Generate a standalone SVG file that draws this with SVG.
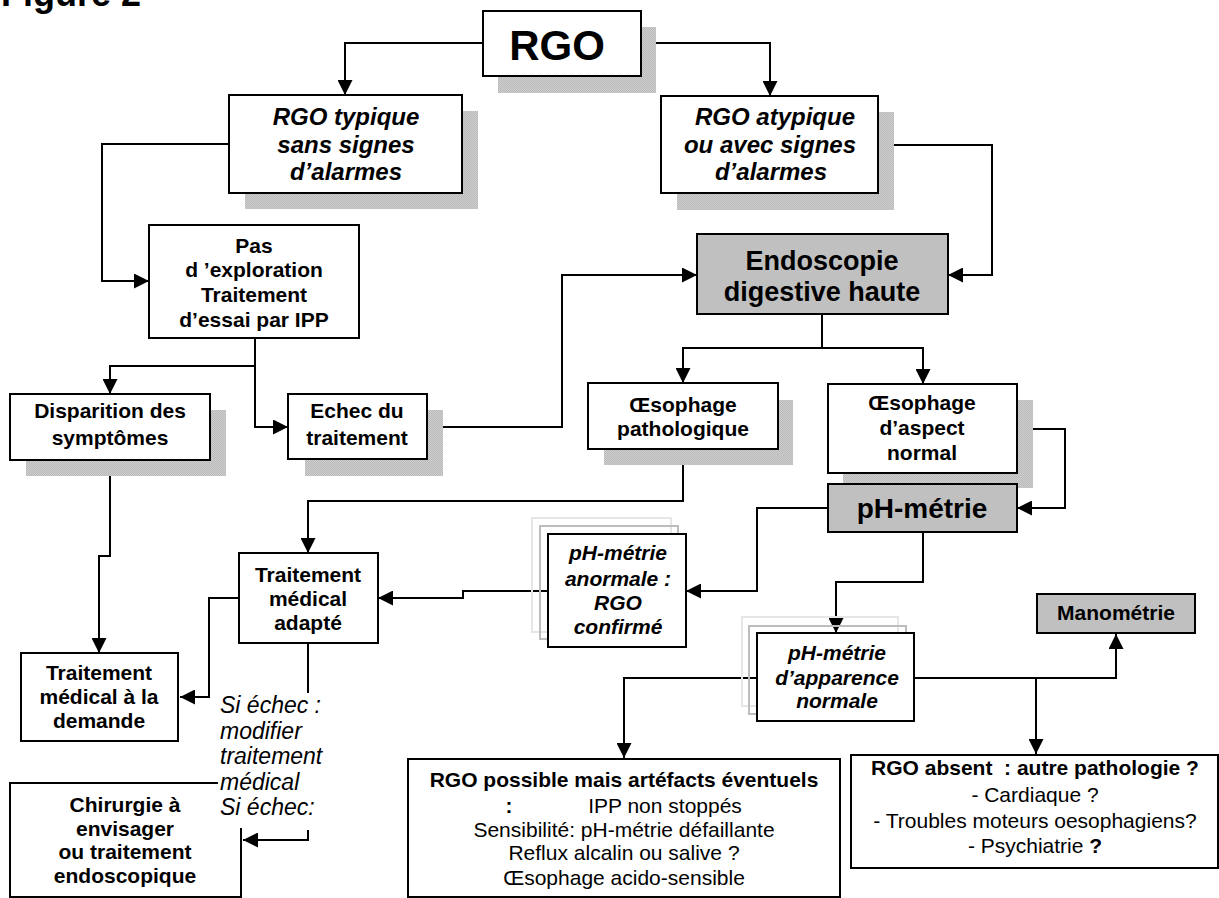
<svg xmlns="http://www.w3.org/2000/svg" width="1219" height="898" viewBox="0 0 1219 898">
<style>
.box{fill:#fff;stroke:#000;stroke-width:2}
.gbox{fill:#c0c0c0;stroke:#000;stroke-width:2}
.sh{fill:url(#dither);stroke:none}
.g1{fill:none;stroke:#e6e6e6;stroke-width:2}
.g2{fill:none;stroke:#bdbdbd;stroke-width:2}
.c{fill:none;stroke:#000;stroke-width:2}
text{font-family:"Liberation Sans",Arial,sans-serif;fill:#000;text-anchor:middle}
.b{font-weight:bold;font-size:21px}
.bi{font-weight:bold;font-style:italic;font-size:24px}
.bi2{font-weight:bold;font-style:italic;font-size:21px}
.r{font-size:21px}
.it{font-style:italic;font-size:23px;text-anchor:start}
</style>
<defs>
<pattern id="dither" width="2" height="2" patternUnits="userSpaceOnUse">
<rect width="2" height="2" fill="#cfcfcf"/>
<rect width="1" height="1" fill="#b9b9b9"/>
<rect x="1" y="1" width="1" height="1" fill="#b9b9b9"/>
</pattern>
<marker id="ar" markerUnits="userSpaceOnUse" markerWidth="15" markerHeight="15" refX="15" refY="7.5" orient="auto">
<path d="M0,0 L15,7.5 L0,15 z" fill="#000"/>
</marker>
</defs>
<rect width="1219" height="898" fill="#fff"/>
<text x="1" y="6" style="font-weight:bold;font-size:36px;text-anchor:start">Figure 2</text>

<g id="connectors">
<path class="c" d="M483,43 H345 V95" marker-end="url(#ar)"/>
<path class="c" d="M641,43 H770 V96" marker-end="url(#ar)"/>
<path class="c" d="M229,144 H102 V281 H149" marker-end="url(#ar)"/>
<path class="c" d="M255,338 V366 H110 V394" marker-end="url(#ar)"/>
<path class="c" d="M255,366 V427 H288" marker-end="url(#ar)"/>
<path class="c" d="M427,427 H562 V275 H697" marker-end="url(#ar)"/>
<path class="c" d="M878,145 H992 V275 H948" marker-end="url(#ar)"/>
<path class="c" d="M822,314 V348 H683 V383" marker-end="url(#ar)"/>
<path class="c" d="M822,348 H923 V384" marker-end="url(#ar)"/>
<path class="c" d="M1017,429 H1065 V508 H1017" marker-end="url(#ar)"/>
<path class="c" d="M683,449 V501 H308 V553" marker-end="url(#ar)"/>
<path class="c" d="M828,508 H757 V591 H686" marker-end="url(#ar)"/>
<path class="c" d="M923,532 V582 H836 V633" marker-end="url(#ar)"/>
<path class="c" d="M548,591 H463 V598 H378" marker-end="url(#ar)"/>
<path class="c" d="M239,598 H209 V697 H180" marker-end="url(#ar)"/>
<path class="c" d="M110,460 V556 H99 V653" marker-end="url(#ar)"/>
<path class="c" d="M308,643 V693"/>
<path class="c" d="M308,830 V840 H243" marker-end="url(#ar)"/>
<path class="c" d="M757,678 H624 V758" marker-end="url(#ar)"/>
<path class="c" d="M914,678 H1116 V634" marker-end="url(#ar)"/>
<path class="c" d="M1036,678 V754" marker-end="url(#ar)"/>
</g>

<g id="n-rgo">
<rect class="sh" x="498" y="27" width="158" height="66"/>
<rect class="box" x="483" y="11" width="158" height="65"/>
<text x="557" y="60" style="font-weight:bold;font-size:42px">RGO</text>
</g>

<g id="n-typique">
<rect class="sh" x="245" y="111" width="233" height="98"/>
<rect class="box" x="229" y="95" width="233" height="98"/>
<text class="bi" x="346" y="125">RGO typique</text>
<text class="bi" x="346" y="153">sans signes</text>
<text class="bi" x="346" y="180">d’alarmes</text>
</g>

<g id="n-atypique">
<rect class="sh" x="677" y="112" width="217" height="98"/>
<rect class="box" x="661" y="96" width="217" height="97"/>
<text class="bi" x="775" y="125">RGO atypique</text>
<text class="bi" x="770" y="153">ou avec signes</text>
<text class="bi" x="771" y="180">d’alarmes</text>
</g>

<g id="n-pas">
<rect class="box" x="149" y="225" width="210" height="113"/>
<text class="b" x="254" y="253">Pas</text>
<text class="b" x="254" y="277">d ’exploration</text>
<text class="b" x="254" y="302">Traitement</text>
<text class="b" x="254" y="327">d’essai par IPP</text>
</g>

<g id="n-endoscopie">
<rect class="gbox" x="697" y="234" width="251" height="80"/>
<text x="822" y="270" style="font-weight:bold;font-size:27px">Endoscopie</text>
<text x="822" y="301" style="font-weight:bold;font-size:27px">digestive haute</text>
</g>

<g id="n-disparition">
<rect class="sh" x="26" y="410" width="200" height="66"/>
<rect class="box" x="10" y="394" width="200" height="66"/>
<text class="b" x="110" y="418">Disparition des</text>
<text class="b" x="110" y="445">symptômes</text>
</g>

<g id="n-echec">
<rect class="sh" x="305" y="410" width="138" height="66"/>
<rect class="box" x="288" y="394" width="139" height="65"/>
<text class="b" x="357" y="418">Echec du</text>
<text class="b" x="357" y="445">traitement</text>
</g>

<g id="n-patho">
<rect class="sh" x="604" y="400" width="189" height="65"/>
<rect class="box" x="588" y="383" width="190" height="66"/>
<text class="b" x="683" y="412">Œsophage</text>
<text class="b" x="683" y="436">pathologique</text>
</g>

<g id="n-normal">
<rect class="sh" x="843" y="400" width="190" height="88"/>
<rect class="box" x="828" y="384" width="189" height="89"/>
<text class="b" x="922" y="410">Œsophage</text>
<text class="b" x="922" y="435">d’aspect</text>
<text class="b" x="922" y="460">normal</text>
</g>

<g id="n-phmetrie">
<rect class="gbox" x="828" y="484" width="189" height="48"/>
<text x="922" y="518" style="font-weight:bold;font-size:28px">pH-métrie</text>
</g>

<g id="n-anormale">
<rect class="g1" x="532" y="518" width="139" height="114"/>
<rect class="g2" x="540" y="526" width="138" height="113"/>
<rect class="box" x="548" y="534" width="138" height="113"/>
<text class="bi2" x="618" y="560">pH-métrie</text>
<text class="bi2" x="618" y="586">anormale :</text>
<text class="bi2" x="618" y="610">RGO</text>
<text class="bi2" x="618" y="634">confirmé</text>
</g>

<g id="n-adapte">
<rect class="box" x="239" y="553" width="139" height="90"/>
<text class="b" x="308" y="582">Traitement</text>
<text class="b" x="308" y="606">médical</text>
<text class="b" x="308" y="630">adapté</text>
</g>

<g id="n-demande">
<rect class="box" x="21" y="653" width="157" height="88"/>
<text class="b" x="99" y="680">Traitement</text>
<text class="b" x="99" y="704">médical à la</text>
<text class="b" x="99" y="728">demande</text>
</g>

<g id="n-chirurgie">
<rect class="box" x="10" y="783" width="231" height="114"/>
<text class="b" x="125" y="812">Chirurgie à</text>
<text class="b" x="125" y="836">envisager</text>
<text class="b" x="125" y="859">ou traitement</text>
<text class="b" x="125" y="883">endoscopique</text>
</g>

<g id="n-siechec">
<rect x="218" y="695" width="112" height="133" fill="#fff"/>
<text class="it" x="220" y="713">Si échec :</text>
<text class="it" x="220" y="739">modifier</text>
<text class="it" x="220" y="764">traitement</text>
<text class="it" x="220" y="790">médical</text>
<text class="it" x="220" y="815">Si échec:</text>
</g>

<g id="n-apparence">
<rect class="g1" x="742" y="617" width="156" height="89"/>
<rect class="g2" x="749" y="626" width="157" height="88"/>
<rect class="box" x="757" y="633" width="157" height="88"/>
<text class="bi2" x="837" y="660">pH-métrie</text>
<text class="bi2" x="837" y="685">d’apparence</text>
<text class="bi2" x="837" y="708">normale</text>
</g>

<g id="n-manometrie">
<rect class="gbox" x="1037" y="594" width="158" height="39"/>
<text class="b" x="1116" y="620">Manométrie</text>
</g>

<g id="n-possible">
<rect class="box" x="408" y="759" width="432" height="138"/>
<text class="b" x="624" y="787">RGO possible mais artéfacts éventuels</text>
<text class="b" x="509" y="813">:</text>
<text class="r" x="665" y="813">IPP non stoppés</text>
<text class="r" x="624" y="837">Sensibilité: pH-métrie défaillante</text>
<text class="r" x="624" y="860">Reflux alcalin ou salive ?</text>
<text class="r" x="624" y="885">Œsophage acido-sensible</text>
</g>

<g id="n-absent">
<rect class="box" x="851" y="755" width="367" height="113"/>
<text class="b" x="1035" y="775" style="white-space:pre">RGO absent  : autre pathologie ?</text>
<text class="r" x="1035" y="802">- Cardiaque ?</text>
<text class="r" x="1035" y="828">- Troubles moteurs oesophagiens?</text>
<text class="r" x="1035" y="853">- Psychiatrie <tspan font-weight="bold">?</tspan></text>
</g>
</svg>
